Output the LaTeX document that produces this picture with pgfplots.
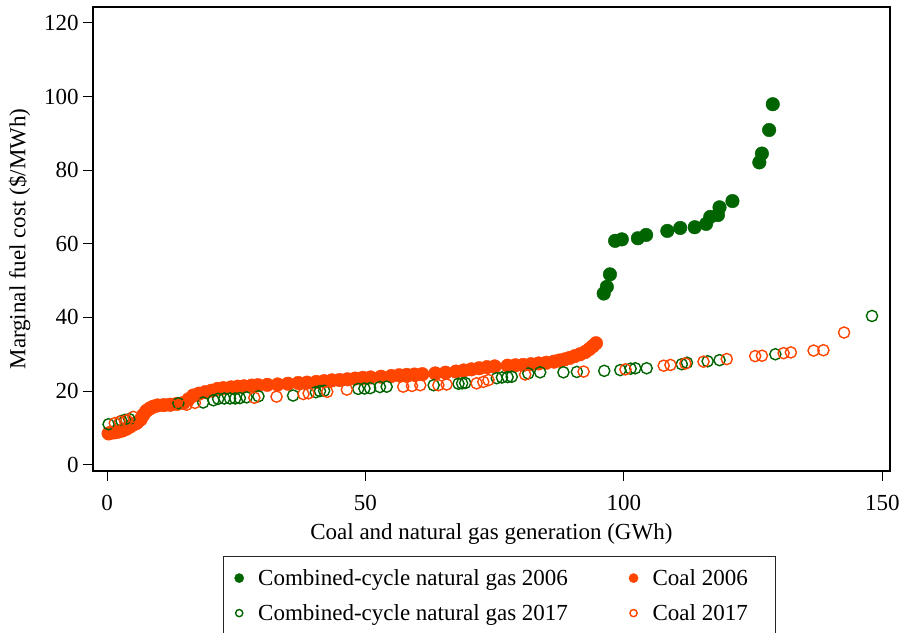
\documentclass[border=0pt]{standalone}
\usepackage{fontspec}
\setmainfont{Liberation Serif}
\usepackage{pgfplots}
\pgfplotsset{compat=1.18}
\definecolor{ccgreen}{RGB}{0,100,0}
\definecolor{coalred}{RGB}{255,69,0}

% CCGT 2006 (filled green)
\pgfplotstableread{
x y
96.1 46.5
96.7 48.3
97.3 51.7
98.3 60.8
99.6 61.2
102.7 61.5
104.3 62.4
108.4 63.5
110.9 64.3
113.7 64.5
115.9 65.4
116.7 67.3
118.2 67.8
118.5 69.9
121.0 71.6
126.2 82.1
126.7 84.5
128.1 90.9
128.8 97.9
}\gasold

% Coal 2006 (filled orange)
\pgfplotstableread{
x y
0.3 8.5
0.8 8.7
1.5 8.8
2.2 9.0
3.0 9.3
3.8 9.8
4.5 10.4
5.2 11.0
5.8 11.4
6.5 12.3
7.0 13.5
7.6 14.6
8.3 15.3
9.0 15.8
9.8 16.1
11.0 16.2
12.2 16.3
13.5 16.5
14.8 16.8
15.8 17.8
16.7 18.8
17.8 19.3
19.0 19.7
20.2 20.1
21.4 20.6
22.5 20.8
24.0 21.0
25.3 21.2
26.5 21.3
28.0 21.5
29.2 21.6
31.0 21.7
33.0 21.8
35.0 22.0
37.0 22.2
38.7 22.3
40.5 22.5
42.0 22.7
43.5 22.9
45.0 23.0
46.5 23.2
48.0 23.4
49.5 23.6
51.0 23.7
53.0 23.9
55.0 24.1
56.5 24.3
58.0 24.4
59.5 24.5
61.0 24.6
63.5 24.8
65.5 25.0
67.5 25.3
69.0 25.6
70.5 25.9
72.0 26.2
73.5 26.5
75.0 26.7
77.5 26.9
79.0 27.0
80.5 27.1
82.0 27.3
83.5 27.5
85.0 27.7
86.5 28.0
87.5 28.3
88.5 28.6
89.5 29.0
90.5 29.5
91.5 30.0
92.5 30.6
93.3 31.4
94.0 32.2
94.6 33.0
}\coalold

% CCGT 2017 (hollow green)
\pgfplotstableread{
x y
0.3 11.0
2.8 11.9
3.5 12.2
4.3 12.4
13.8 16.7
18.6 16.9
20.6 17.5
21.5 17.9
22.7 18.0
23.8 18.0
24.8 18.0
25.7 18.1
27.0 18.3
29.3 18.6
36.0 18.8
40.4 19.7
41.2 20.0
42.0 20.1
48.6 20.6
49.8 20.7
50.9 20.8
52.8 21.1
54.1 21.2
63.2 21.6
68.0 22.0
68.7 22.1
69.3 22.2
75.4 23.5
76.4 23.7
77.5 23.8
78.3 23.9
81.5 24.8
83.8 25.1
88.3 25.1
90.9 25.2
96.2 25.5
99.3 25.7
101.3 26.1
102.2 26.2
104.4 26.2
111.2 27.3
112.2 27.7
116.2 28.1
118.5 28.4
129.3 30.0
148.0 40.4
}\gasnew

% Coal 2017 (hollow orange)
\pgfplotstableread{
x y
1.5 11.3
2.5 11.7
3.8 12.1
5.1 13.0
12.5 16.2
15.4 16.3
17.0 16.8
28.5 18.2
32.8 18.5
38.0 19.2
39.0 19.4
42.6 19.8
46.4 20.4
57.3 21.2
59.0 21.4
60.6 21.6
64.1 21.6
65.7 21.8
71.5 22.1
72.8 22.5
73.8 23.0
80.9 24.5
92.2 25.3
100.3 25.9
107.7 26.9
109.0 27.1
111.9 27.5
115.4 28.0
119.9 28.7
125.4 29.5
126.7 29.6
130.9 30.3
132.3 30.5
136.7 31.0
138.6 31.1
142.6 35.9
}\coalnew

\begin{document}
\fontsize{11.5}{13.8}\selectfont
\begin{tikzpicture}
\begin{axis}[
    scale only axis,
    width=398.7pt, height=232pt,
    xmin=-2.77, xmax=151.5,
    ymin=-1.7, ymax=124.3,
    xtick={0,50,100,150},
    ytick={0,20,...,120},
    tick pos=left,
    tick align=outside,
    major tick length=5pt,
    tick style={black, line width=0.5pt},
    axis line style={black, line width=1pt},
    /pgf/number format/assume math mode=true,
    ticklabel style={font=\fontsize{11.5}{13.8}\selectfont},
    xticklabel style={yshift=-3pt},
    yticklabel style={xshift=2pt},
    label style={font=\fontsize{11.5}{13.8}\selectfont},
    xlabel={Coal and natural gas generation (GWh)},
    ylabel={Marginal fuel cost (\$/MWh)},
    xlabel style={yshift=1.5pt},
    ylabel style={yshift=-1pt},
    legend columns=2,
    legend cell align=left,
    legend image code/.code={
        \path (0pt,0pt) (11.7pt,0pt);
        \draw[#1] plot coordinates {(4.5pt,0pt)};},
    legend style={
        at={(0.1634,-0.1832)}, anchor=north west,
        draw=black!85, line width=0.6pt,
        font=\fontsize{11.5}{13.8}\selectfont,
        nodes={text height=10pt, text depth=2.5pt, inner ysep=2.5pt},
        /tikz/every even column/.append style={column sep=26pt}},
]
\coordinate (sw) at (rel axis cs:0,0);
\addplot[only marks, mark=*, mark size=3.4pt, color=ccgreen,
    mark options={fill=ccgreen, draw=ccgreen, line width=0.2pt},
    legend image post style={mark size=2.3pt}] table {\gasold};
\addlegendentry{Combined-cycle natural gas 2006}
\addplot[only marks, mark=*, mark size=3.4pt, color=coalred,
    mark options={fill=coalred, draw=coalred, line width=0.2pt},
    legend image post style={mark size=2.3pt}] table {\coalold};
\addlegendentry{\makebox[56.5pt][l]{Coal 2006}}
\addplot[only marks, mark=o, mark size=2.8pt, color=ccgreen,
    mark options={line width=0.7pt},
    legend image post style={mark size=1.8pt}] table {\gasnew};
\addlegendentry{Combined-cycle natural gas 2017}
\addplot[only marks, mark=o, mark size=2.8pt, color=coalred,
    mark options={line width=0.7pt},
    legend image post style={mark size=1.8pt}] table {\coalnew};
\addlegendentry{\makebox[56.5pt][l]{Coal 2017}}
\end{axis}
\pgfresetboundingbox
\useasboundingbox ([shift={(-46.35pt,-81pt)}]sw) rectangle ([shift={(404.65pt,235.5pt)}]sw);
\end{tikzpicture}
\end{document}
